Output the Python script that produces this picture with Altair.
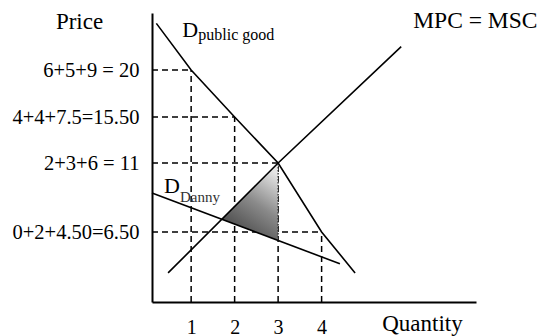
import altair as alt
import pandas as pd

FONT = "Liberation Serif"

quantities = [1, 2, 3, 4]
price_levels = [20, 15.5, 11, 6.5]
price_labels = ["6+5+9 = 20", "4+4+7.5=15.50", "2+3+6 = 11", "0+2+4.50=6.50"]

# Demand for the public good (vertical sum of individual demands)
d_public_q = [0.2, 1, 2, 3, 4, 4.77]
d_public_p = [23.6, 20, 15.5, 11, 6.5, 2.7]

# Danny's own demand
d_danny_q = [0.1, 4.42]
d_danny_p = [9.05, 3.55]

# Marginal private cost = marginal social cost
mpc_q = [0.47, 3, 5.83]
mpc_p = [2.7, 11, 21.8]

# Deadweight-loss triangle between MPC and Danny's demand
dwl_q = [1.70, 3]
dwl_top = [7.33, 11]
dwl_bottom = [7.33, 5.7]

# Plot area and (hand-drawn, piecewise) scales
W, H = 324, 289
Q_DOMAIN = [0.1, 7.55]
P_BREAKS = [0, 6.5, 11, 15.5, 20, 24.4]
P_RANGE = [289, 219, 150, 104, 57, 0]

x_scale = alt.Scale(domain=Q_DOMAIN, range=[0, W], nice=False, zero=False)
y_scale = alt.Scale(domain=P_BREAKS, range=P_RANGE, nice=False, zero=False)

label_expr = " : ".join(
    f"datum.value == {v} ? '{t}'" for v, t in zip(price_levels, price_labels)
) + " : ''"

x_axis = alt.Axis(
    values=quantities, format="d", labelFont=FONT, labelFontSize=20,
    labelColor="black", labelPadding=15, labelFlush=False, labelOverlap=False,
    ticks=False, tickSize=0, grid=False, domainColor="black", domainWidth=2,
    title="Quantity", titleFont=FONT, titleFontSize=23, titleFontWeight="normal",
    titleColor="black", titleX=270, titleY=28, titleAlign="center",
    titleBaseline="alphabetic",
)
y_axis = alt.Axis(
    values=price_levels, labelExpr=label_expr, labelFont=FONT, labelFontSize=20.5,
    labelColor="black", labelPadding=13, labelFlush=False, labelOverlap=False,
    ticks=False, tickSize=0, grid=False, domainColor="black", domainWidth=2,
    title="Price", titleFont=FONT, titleFontSize=23, titleFontWeight="normal",
    titleColor="black", titleAngle=0, titleX=-73, titleY=15, titleAlign="center",
    titleBaseline="alphabetic",
)


def X(field):
    return alt.X(field, type="quantitative", scale=x_scale, axis=x_axis)


def Y(field):
    return alt.Y(field, type="quantitative", scale=y_scale, axis=y_axis)


guides = pd.DataFrame({"q": quantities, "p": price_levels,
                       "q0": Q_DOMAIN[0], "p0": 0.0})

dash = [6, 4]
h_guides = alt.Chart(guides).mark_rule(color="black", strokeWidth=1.5, strokeDash=dash).encode(
    x=X("q0"), x2="q", y=Y("p"))
v_guides = alt.Chart(guides).mark_rule(color="black", strokeWidth=1.5, strokeDash=dash).encode(
    x=X("q"), y=Y("p0"), y2="p")

gradient = alt.Gradient(
    gradient="linear",
    stops=[alt.GradientStop(color="#e6e6e6", offset=0),
           alt.GradientStop(color="#8a8a8a", offset=0.45),
           alt.GradientStop(color="#3c3c3c", offset=1)],
    x1=0.7, y1=0, x2=0.2, y2=1,
)
dwl = alt.Chart(pd.DataFrame({"q": dwl_q, "p": dwl_top, "p2": dwl_bottom})).mark_area(
    color=gradient, opacity=1).encode(x=X("q"), y=Y("p"), y2="p2")

dwl_edge = alt.Chart(pd.DataFrame({"q": [dwl_q[-1]], "p": [dwl_bottom[-1]], "p2": [dwl_top[-1]]})).mark_rule(
    color="#222222", strokeWidth=1.2, strokeDash=[1.5, 1.5]).encode(x=X("q"), y=Y("p"), y2="p2")


def curve(qs, ps):
    df = pd.DataFrame({"q": qs, "p": ps, "i": range(len(qs))})
    return alt.Chart(df).mark_line(color="black", strokeWidth=1.6).encode(
        x=X("q"), y=Y("p"), order="i:Q")


public_line = curve(d_public_q, d_public_p)
danny_line = curve(d_danny_q, d_danny_p)
mpc_line = curve(mpc_q, mpc_p)


def label(q, p, text, size, dx, dy, color="black"):
    df = pd.DataFrame({"q": [q], "p": [p], "t": [text]})
    return alt.Chart(df).mark_text(
        font=FONT, fontSize=size, color=color, align="left",
        baseline="alphabetic", dx=dx, dy=dy,
    ).encode(x=X("q"), y=Y("p"), text="t:N")


labels = [
    label(d_public_q[0], d_public_p[0], "D", 22, 26, 14),
    label(d_public_q[0], d_public_p[0], "public good", 16, 42, 17),
    label(d_danny_q[0], d_danny_p[0], "D", 22, 12, 0),
    label(d_danny_q[0], d_danny_p[0], "Danny", 15, 28, 9, "#333333"),
    label(mpc_q[-1], mpc_p[-1], "MPC = MSC", 23.5, 12, -19),
]

chart = alt.layer(
    h_guides, v_guides, dwl, public_line, danny_line, mpc_line, dwl_edge, *labels
).properties(
    width=W, height=H,
    autosize=alt.AutoSizeParams(type="none"),
    padding={"left": 152, "top": 13, "right": 70, "bottom": 34},
    background="white",
).configure_view(stroke=None)

chart.save("out.html", embed_options={"renderer": "svg", "actions": False})
